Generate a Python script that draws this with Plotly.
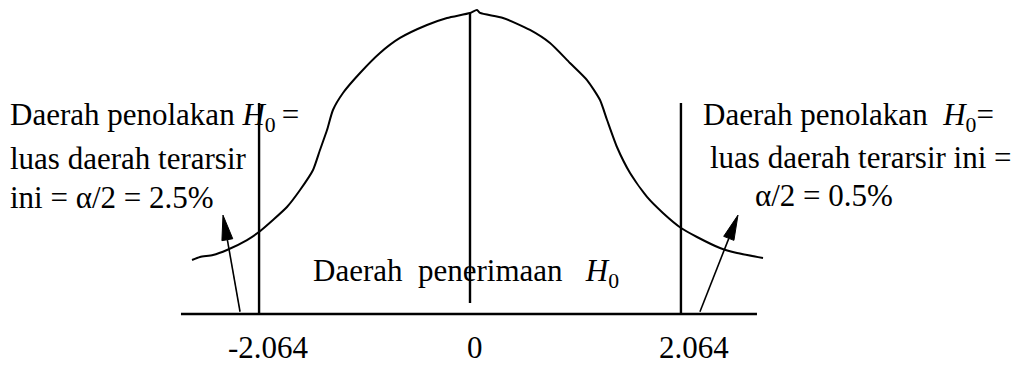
import math
import plotly.graph_objects as go

# ---- data ----
# hand-drawn bell curve (z value, height)
curve_x = [-2.720, -2.642, -2.515, -2.378, -2.182, -2.065, -1.928, -1.791, -1.663, -1.536,
           -1.468, -1.399, -1.341, -1.243, -1.076, -0.881, -0.685, -0.421, -0.225, 0.000,
           0.068, 0.098, 0.323, 0.587, 0.783, 0.978, 1.145, 1.272, 1.341, 1.438,
           1.566, 1.732, 1.888, 2.065, 2.221, 2.446, 2.613, 2.867]
curve_y = [0.0715, 0.0755, 0.0781, 0.0848, 0.0980, 0.1086, 0.1245, 0.1417, 0.1642, 0.1907,
           0.2172, 0.2437, 0.2702, 0.2927, 0.3192, 0.3457, 0.3656, 0.3828, 0.3921, 0.3987,
           0.4026, 0.3987, 0.3921, 0.3762, 0.3589, 0.3325, 0.3099, 0.2834, 0.2570, 0.2212,
           0.1868, 0.1550, 0.1338, 0.1139, 0.1020, 0.0874, 0.0808, 0.0742]

# critical values and vertical markers
crit_values = [-2.064, 0.0, 2.064]
tick_labels = ["-2.064", "0", "2.064"]
line_bottoms = [0.0, 0.0146, 0.0]
line_tops = [0.2795, 0.3987, 0.2795]

# baseline (horizontal axis) extent
axis_x = [-2.828, 2.808]

# arrows: tail -> head
arrow_tail_x = [-2.250, 2.250]
arrow_tail_y = [0.003, 0.003]
arrow_head_x = [-2.417, 2.622]
arrow_head_y = [0.131, 0.131]

# texts
left_lines = ["Daerah penolakan <i>H</i><sub>0</sub>\u2009=",
              "luas daerah terarsir",
              "ini = \u03b1/2 = 2.5%"]
right_lines = ["Daerah penolakan\u00a0 <i>H</i><sub>0</sub>=",
               "luas daerah terarsir ini =",
               "\u03b1/2 = 0.5%"]
center_text = "Daerah\u00a0 penerimaan\u00a0\u00a0 <i>H</i><sub>0</sub>"

# ---- figure ----
W, H = 1023, 365
FONT = "Liberation Serif, Times New Roman, serif"
X_RANGE = [(0 - 470) / 102.2, (W - 470) / 102.2]
Y_RANGE = [-51 / 755, 314 / 755]
PX_X = W / (X_RANGE[1] - X_RANGE[0])
PX_Y = H / (Y_RANGE[1] - Y_RANGE[0])
HEAD_LEN, HEAD_HALF = 25, 5.5

fig = go.Figure()

fig.add_trace(go.Scatter(x=curve_x, y=curve_y, mode="lines",
                         line=dict(color="black", width=2, shape="spline", smoothing=0.6),
                         hoverinfo="skip"))

fig.add_trace(go.Scatter(x=axis_x, y=[0, 0], mode="lines",
                         line=dict(color="black", width=2.6), hoverinfo="skip"))

for xv, y0, y1 in zip(crit_values, line_bottoms, line_tops):
    fig.add_trace(go.Scatter(x=[xv, xv], y=[y0, y1], mode="lines",
                             line=dict(color="black", width=2.4), hoverinfo="skip"))

# arrows: shaft + narrow filled head
for tx, ty, hx, hy in zip(arrow_tail_x, arrow_tail_y, arrow_head_x, arrow_head_y):
    dxp, dyp = (hx - tx) * PX_X, (hy - ty) * PX_Y
    L = math.hypot(dxp, dyp)
    ux, uy = dxp / L, dyp / L
    bx, by = hx - HEAD_LEN * ux / PX_X, hy - HEAD_LEN * uy / PX_Y
    px_, py_ = -uy, ux
    c1 = (bx + HEAD_HALF * px_ / PX_X, by + HEAD_HALF * py_ / PX_Y)
    c2 = (bx - HEAD_HALF * px_ / PX_X, by - HEAD_HALF * py_ / PX_Y)
    fig.add_trace(go.Scatter(x=[tx, bx], y=[ty, by], mode="lines",
                             line=dict(color="black", width=1.6), hoverinfo="skip"))
    fig.add_trace(go.Scatter(x=[hx, c1[0], c2[0], hx], y=[hy, c1[1], c2[1], hy],
                             mode="lines", fill="toself", fillcolor="black",
                             line=dict(color="black", width=1), hoverinfo="skip"))

annotations = []

label_shift = [9, 5, 13]
for xv, lab, sh in zip(crit_values, tick_labels, label_shift):
    annotations.append(dict(x=xv, y=1 - 347 / H, xref="x", yref="paper",
                            text=lab, showarrow=False, xshift=sh, borderpad=0,
                            xanchor="center", yanchor="middle",
                            font=dict(family=FONT, size=31, color="black")))


def ptext(txt, px, baseline, size, anchor="left"):
    return dict(x=px / W, y=1 - (baseline - 0.32 * size) / H, xref="paper", yref="paper",
                text=txt, showarrow=False, xanchor=anchor, yanchor="middle",
                font=dict(family=FONT, size=size, color="black"))


for txt, bl in zip(left_lines, [127, 168, 207]):
    annotations.append(ptext(txt, 8, bl, 31))
for txt, px, bl in zip(right_lines, [701, 708, 753], [127, 167, 205]):
    annotations.append(ptext(txt, px, bl, 31))
annotations.append(ptext(center_text, 311, 283, 31))

fig.update_layout(
    width=W, height=H, autosize=False,
    margin=dict(l=0, r=0, t=0, b=0),
    paper_bgcolor="white", plot_bgcolor="white",
    showlegend=False,
    xaxis=dict(range=X_RANGE, visible=False, fixedrange=True),
    yaxis=dict(range=Y_RANGE, visible=False, fixedrange=True),
    annotations=annotations,
)

fig.write_html("out.html", config={"displayModeBar": False},
               post_script="document.body.style.margin='0';document.body.style.overflow='hidden';")
